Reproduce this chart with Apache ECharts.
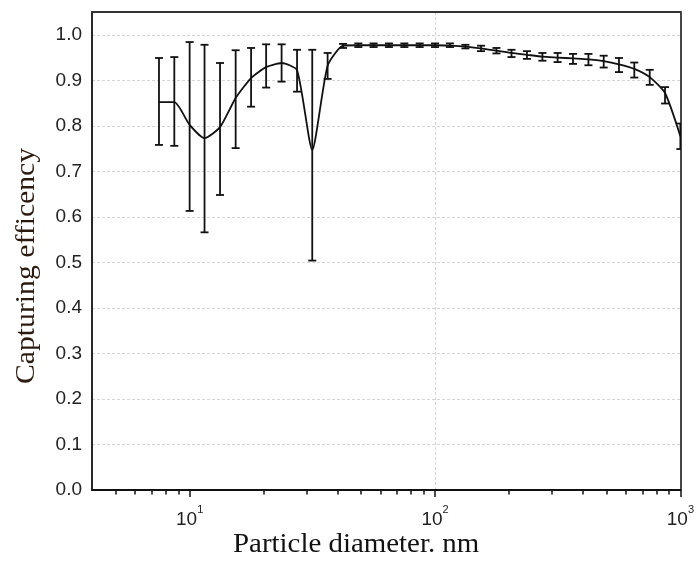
<!DOCTYPE html>
<html>
<head>
<meta charset="utf-8">
<script src="https://cdn.jsdelivr.net/npm/echarts@6/dist/echarts.min.js"></script>
<style>
html,body{margin:0;padding:0;background:#fff;}
#chart{width:697px;height:561px;}
</style>
</head>
<body>
<div id="chart"></div>
<script>
// Particle diameters (nm), 16 channels per decade
const diameters = [7.50, 8.66, 10.0, 11.5, 13.3, 15.4, 17.8, 20.5, 23.7, 27.4, 31.6, 36.5,
  42.2, 48.7, 56.2, 64.9, 75.0, 86.6, 100, 115, 133, 154, 178, 205, 237, 274, 316, 365,
  422, 487, 562, 649, 750, 866, 1000];
// Capturing efficiency (mean)
const efficiency = [0.852, 0.852, 0.802, 0.773, 0.797, 0.861, 0.905, 0.929, 0.938, 0.922, 0.747, 0.932,
  0.976, 0.977, 0.977, 0.977, 0.977, 0.977, 0.977, 0.976, 0.974, 0.970, 0.965, 0.960, 0.956, 0.952, 0.950, 0.948,
  0.946, 0.942, 0.935, 0.925, 0.907, 0.872, 0.777];
// Error bar upper and lower limits
const upper = [0.949, 0.951, 0.984, 0.978, 0.938, 0.966, 0.971, 0.979, 0.979, 0.967, 0.967, 0.960,
  0.980, 0.981, 0.981, 0.981, 0.981, 0.981, 0.981, 0.981, 0.978, 0.976, 0.971, 0.967, 0.964, 0.960, 0.960, 0.958,
  0.958, 0.954, 0.949, 0.939, 0.923, 0.885, 0.805];
const lower = [0.758, 0.756, 0.613, 0.566, 0.648, 0.751, 0.842, 0.884, 0.897, 0.875, 0.504, 0.903,
  0.971, 0.973, 0.973, 0.973, 0.973, 0.973, 0.973, 0.973, 0.970, 0.964, 0.959, 0.951, 0.947, 0.943, 0.940, 0.936,
  0.933, 0.928, 0.918, 0.906, 0.890, 0.849, 0.749];
// Axis ticks
const majorTicks = [10, 100, 1000];
const minorTicks = [5, 6, 7, 8, 9, 20, 30, 40, 50, 60, 70, 80, 90, 200, 300, 400, 500, 600, 700, 800, 900];
const xTitle = 'Particle diameter. nm';
const yTitle = 'Capturing efficency';

const chart = echarts.init(document.getElementById('chart'));
const lineData = diameters.map((d, i) => [d, efficiency[i]]);
const errData = diameters.map((d, i) => [d, lower[i], upper[i]]);

const option = {
  animation: false,
  backgroundColor: '#fff',
  grid: {left: 92, right: 14, top: 12, bottom: 71, show: false},
  xAxis: [{
    type: 'log', logBase: 10, min: 4, max: 1000,
    axisLine: {show: true, lineStyle: {color: '#111', width: 1.8}},
    axisTick: {show: true, inside: false, length: 7, lineStyle: {color: '#111', width: 1.5}, customValues: majorTicks},
    axisLabel: {
      customValues: majorTicks,
      margin: 14,
      formatter: function (v) {
        const e = Math.round(Math.log10(v));
        return '{b|10}{s|' + e + '}';
      },
      rich: {
        b: {fontFamily: 'Liberation Sans', fontSize: 19, color: '#222', padding: [6, 0, 0, 0]},
        s: {fontFamily: 'Liberation Sans', fontSize: 11, color: '#222', verticalAlign: 'top'}
      }
    },
    splitLine: {show: true, showMinLine: false, showMaxLine: false, lineStyle: {color: '#d5d5d5', type: [3, 2], width: 1}}
  }, {
    type: 'log', logBase: 10, min: 4, max: 1000, position: 'bottom',
    axisLine: {show: false},
    axisTick: {show: true, inside: false, length: 4.5, lineStyle: {color: '#111', width: 1.5}, customValues: minorTicks},
    axisLabel: {show: false},
    splitLine: {show: false}
  }, {
    type: 'log', logBase: 10, min: 4, max: 1000, position: 'top',
    axisLine: {show: true, lineStyle: {color: '#333', width: 1.8}},
    axisTick: {show: false}, axisLabel: {show: false}, splitLine: {show: false}
  }],
  yAxis: [{
    type: 'value', min: 0, max: 1.05, interval: 0.1,
    axisLine: {show: true, lineStyle: {color: '#111', width: 1.8}},
    axisTick: {show: false},
    axisLabel: {
      margin: 10, fontFamily: 'Liberation Sans', fontSize: 19, color: '#222',
      formatter: function (v) { return v > 1.01 ? '' : v.toFixed(1); }
    },
    splitLine: {show: true, showMinLine: false, showMaxLine: false, lineStyle: {color: '#d5d5d5', type: [3, 2], width: 1}}
  }, {
    type: 'value', min: 0, max: 1.05, position: 'right',
    axisLine: {show: true, lineStyle: {color: '#333', width: 1.8}},
    axisTick: {show: false}, axisLabel: {show: false}, splitLine: {show: false}
  }],
  graphic: [{
    type: 'text', left: 233, top: 531, scaleX: 1.07,
    style: {text: xTitle, fontFamily: 'Liberation Serif', fontSize: 27, fill: '#111'}
  }, {
    type: 'text', x: 13, y: 384, rotation: Math.PI / 2, scaleX: 1.1,
    style: {text: yTitle, fontFamily: 'Liberation Serif', fontSize: 27, fill: '#2a1a10', textVerticalAlign: 'top'}
  }],
  series: [{
    type: 'line', xAxisIndex: 0, yAxisIndex: 0, data: lineData, smooth: 0.2, symbol: 'none',
    lineStyle: {color: '#111', width: 1.8}, z: 3
  }, {
    type: 'custom', xAxisIndex: 0, yAxisIndex: 0, data: errData, clip: true, z: 4,
    encode: {x: 0, y: [1, 2]},
    renderItem: function (params, api) {
      const x = api.value(0);
      const pLo = api.coord([x, api.value(1)]);
      const pHi = api.coord([x, api.value(2)]);
      const w = 4;
      const st = {stroke: '#111', lineWidth: 1.8};
      return {type: 'group', children: [
        {type: 'line', shape: {x1: pLo[0], y1: pLo[1], x2: pHi[0], y2: pHi[1]}, style: st},
        {type: 'line', shape: {x1: pLo[0] - w, y1: pLo[1], x2: pLo[0] + w, y2: pLo[1]}, style: st},
        {type: 'line', shape: {x1: pHi[0] - w, y1: pHi[1], x2: pHi[0] + w, y2: pHi[1]}, style: st}
      ]};
    }
  }]
};
chart.setOption(option);
</script>
</body>
</html>
